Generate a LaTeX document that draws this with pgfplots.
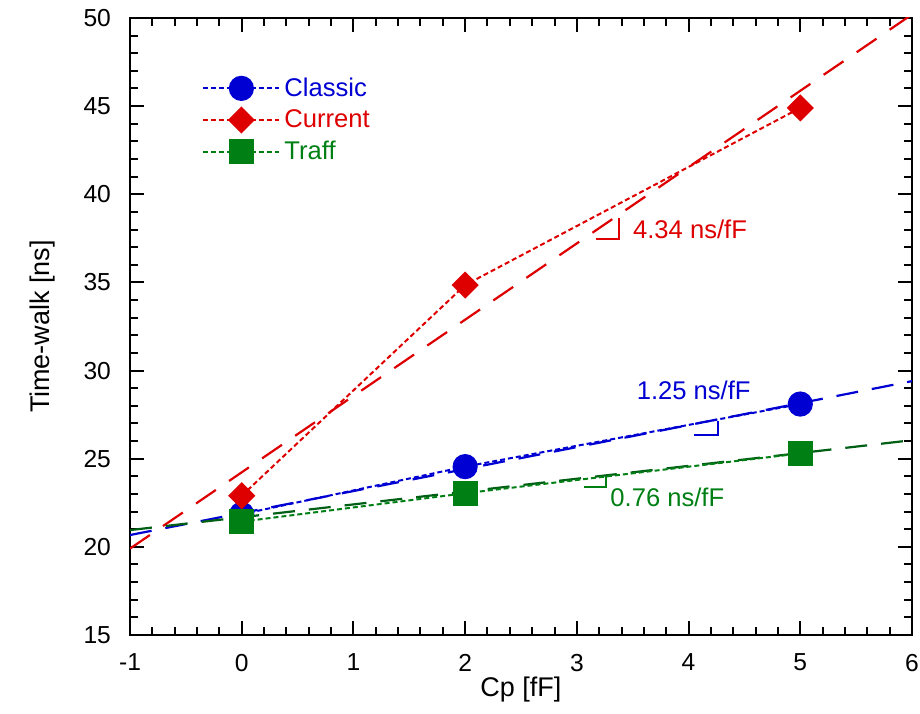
\documentclass[border=0pt]{standalone}
\usepackage{fontspec}
\setmainfont{Liberation Sans}
\usepackage{pgfplots}
\pgfplotsset{compat=1.18}
\definecolor{clblue}{RGB}{0,0,210}
\definecolor{clred}{RGB}{222,0,0}
\definecolor{clgreen}{RGB}{0,128,20}
\definecolor{cldkgreen}{RGB}{0,95,20}
\begin{document}
\begin{tikzpicture}
\begin{axis}[
  scale only axis, width=391pt, height=308.5pt,
  xmin=-1, xmax=6, ymin=15, ymax=50,
  xtick={-1,0,1,2,3,4,5,6}, ytick={15,20,25,30,35,40,45,50},
  minor x tick num=4, minor y tick num=4,
  tick align=inside, major tick length=7pt, minor tick length=4pt,
  axis line style={line width=1.2pt},
  every tick/.style={black, line width=1pt},
  tick label style={font=\fontsize{12.3}{14}\selectfont},
  /pgf/number format/assume math mode=true,
  xticklabel style={yshift=-6pt},
  yticklabel style={xshift=-6pt},
  xlabel={Cp [fF]}, ylabel={Time-walk [ns]},
  every axis x label/.style={at={(axis description cs:0.5,-0.0891)}, anchor=center, font=\fontsize{13.5}{16}\selectfont},
  every axis y label/.style={at={(axis description cs:-0.1125,0.5)}, anchor=center, rotate=90, font=\fontsize{13.5}{16}\selectfont},
  legend image code/.code={\draw[mark repeat=2,mark phase=2] plot coordinates {(0pt,0pt)(19pt,0pt)(38pt,0pt)};},
  legend style={at={(axis description cs:0.0844,0.917)}, anchor=north west, draw=none, fill=none,
    font=\fontsize{12.8}{15}\selectfont, row sep=1.2pt},
  legend cell align=left,
]
% fit lines
\addplot[clred, line width=1.1pt, dash pattern=on 12pt off 8pt, forget plot] coordinates {(-1,19.9) (6,50.2)};
\addplot[clblue, line width=1.1pt, dash pattern=on 11pt off 7pt, forget plot] coordinates {(-1,20.67) (6,29.4)};
\addplot[cldkgreen, line width=1.1pt, dash pattern=on 11pt off 7pt, forget plot] coordinates {(-1,20.95) (6,26.05)};
% slope marks
\addplot[clred, line width=1pt, forget plot] coordinates {(3.168,37.46) (3.374,37.46) (3.374,38.65)};
\addplot[clblue, line width=1pt, forget plot] coordinates {(4.046,26.34) (4.262,26.34) (4.262,27.14)};
\addplot[clgreen, line width=1pt, forget plot] coordinates {(3.06,23.39) (3.257,23.39) (3.257,24.02)};
% data
\addplot[clblue, line width=1pt, dash pattern=on 2.5pt off 1.5pt, mark=*, mark size=5.8pt, mark options={solid, fill=clblue}] coordinates {(0,21.85) (2,24.55) (5,28.1)};
\addlegendentry{\textcolor{clblue}{Classic}}
\addplot[clred, line width=1pt, dash pattern=on 2.5pt off 1.5pt, mark=square*, mark size=4.3pt, mark options={solid, rotate=45, fill=clred}] coordinates {(0,22.9) (2,34.85) (5,44.9)};
\addlegendentry{\textcolor{clred}{Current}}
\addplot[clgreen, line width=1pt, dash pattern=on 2.5pt off 1.5pt, mark=square*, mark size=5.8pt, mark options={solid, fill=clgreen}] coordinates {(0,21.43) (2,23.04) (5,25.3)};
\addlegendentry{\textcolor{clgreen}{Traff}}
\node[anchor=west, inner sep=0pt, text=clred, font=\fontsize{12.8}{15}\selectfont] at (axis cs:3.50,38.0) {4.34 ns/fF};
\node[text=clblue, font=\fontsize{12.8}{15}\selectfont] at (axis cs:4.046,28.9) {1.25 ns/fF};
\node[text=clgreen, font=\fontsize{12.8}{15}\selectfont] at (axis cs:3.81,22.83) {0.76 ns/fF};
\coordinate (BL) at (rel axis cs:0,0);
\coordinate (TR) at (rel axis cs:1,1);
\end{axis}
\pgfresetboundingbox
\path ([shift={(-65pt,-39.5pt)}]BL) rectangle ([shift={(4pt,9pt)}]TR);
\end{tikzpicture}
\end{document}
